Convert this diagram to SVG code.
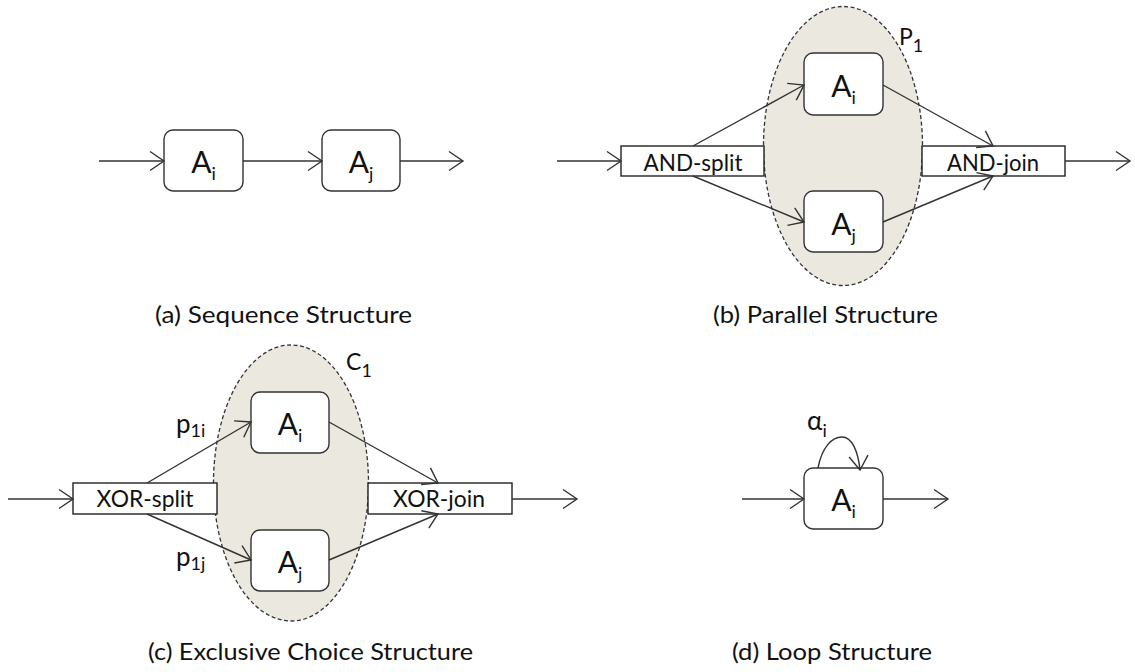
<svg xmlns="http://www.w3.org/2000/svg" width="1135" height="672" viewBox="0 0 1135 672">
<style>
text{font-family:Lato,"Open Sans","Liberation Sans",sans-serif;fill:#111}
.box{fill:#fff;stroke:#333;stroke-width:1.4}
.gate{fill:#fff;stroke:#222;stroke-width:1.4}
.grp{fill:#ebe8e0;stroke:#333;stroke-width:1.3;stroke-dasharray:4 2.5}
.c{fill:none;stroke:#333;stroke-width:1.4;marker-end:url(#arr)}
.a{font-size:30px;text-anchor:middle}
.sub{font-size:18px}
.g{font-size:24px;text-anchor:middle}
.cap{font-size:24px}
.lbl{font-size:26px}
</style>
<defs>
<marker id="arr" viewBox="-16 -11 19 22" refX="0" refY="0" markerWidth="19" markerHeight="22" markerUnits="userSpaceOnUse" orient="auto">
<path d="M-14,-9.5 L0,0 L-14,9.5" fill="none" stroke="#333" stroke-width="1.4"/>
</marker>
</defs>

<!-- groups (ellipses) -->
<g id="P1">
<ellipse class="grp" cx="843" cy="146" rx="79.5" ry="139.5"/>
<text x="899" y="45" style="font-size:23px">P<tspan style="font-size:18px" dy="7">1</tspan></text>
</g>
<g id="C1">
<ellipse class="grp" cx="291" cy="483" rx="77.5" ry="138"/>
<text x="346" y="370" style="font-size:23px">C<tspan style="font-size:18px" dy="7">1</tspan></text>
</g>

<!-- (a) sequence -->
<g id="seq-Ai"><rect class="box" x="164" y="130" width="79" height="61" rx="9"/><text class="a" x="203.5" y="173">A<tspan class="sub" dy="7">i</tspan></text></g>
<g id="seq-Aj"><rect class="box" x="322" y="130" width="78" height="61" rx="9"/><text class="a" x="361" y="173">A<tspan class="sub" dy="7">j</tspan></text></g>

<!-- (b) parallel -->
<g id="and-split"><rect class="gate" x="621" y="146" width="143" height="30"/><text class="g" x="693" y="171" textLength="99" lengthAdjust="spacingAndGlyphs">AND-split</text></g>
<g id="par-Ai"><rect class="box" x="804" y="53" width="79" height="62" rx="9"/><text class="a" x="843.5" y="96.5">A<tspan class="sub" dy="7">i</tspan></text></g>
<g id="par-Aj"><rect class="box" x="804" y="191" width="79" height="61" rx="9"/><text class="a" x="843.5" y="234.5">A<tspan class="sub" dy="7">j</tspan></text></g>
<g id="and-join"><rect class="gate" x="922" y="146" width="143" height="30"/><text class="g" x="993" y="171" textLength="92" lengthAdjust="spacingAndGlyphs">AND-join</text></g>

<!-- (c) exclusive choice -->
<g id="xor-split"><rect class="gate" x="73" y="483" width="144" height="31"/><text class="g" x="145" y="507" textLength="97" lengthAdjust="spacingAndGlyphs">XOR-split</text></g>
<g id="xor-Ai"><rect class="box" x="251" y="392" width="78" height="61" rx="9"/><text class="a" x="290" y="435">A<tspan class="sub" dy="7">i</tspan></text></g>
<g id="xor-Aj"><rect class="box" x="251" y="530" width="78" height="61" rx="9"/><text class="a" x="290" y="573">A<tspan class="sub" dy="7">j</tspan></text></g>
<g id="xor-join"><rect class="gate" x="368" y="483" width="144" height="31"/><text class="g" x="439" y="507" textLength="92" lengthAdjust="spacingAndGlyphs">XOR-join</text></g>

<!-- (d) loop -->
<g id="loop-Ai"><rect class="box" x="804" y="468" width="79" height="61" rx="9"/><text class="a" x="843.5" y="511">A<tspan class="sub" dy="7">i</tspan></text></g>

<!-- connectors -->
<g id="connectors">
<line class="c" x1="99" y1="161" x2="164" y2="161"/>
<line class="c" x1="243" y1="161" x2="322" y2="161"/>
<line class="c" x1="400" y1="161" x2="463" y2="161"/>

<line class="c" x1="557" y1="161" x2="621" y2="161"/>
<line class="c" x1="693" y1="146" x2="804" y2="85"/>
<line class="c" x1="693" y1="176" x2="804" y2="222"/>
<line class="c" x1="883" y1="85" x2="993" y2="146"/>
<line class="c" x1="883" y1="222" x2="993" y2="176"/>
<line class="c" x1="1065" y1="161" x2="1130" y2="161"/>

<line class="c" x1="8" y1="499" x2="73" y2="499"/>
<line class="c" x1="147" y1="483" x2="251" y2="422"/>
<line class="c" x1="147" y1="514" x2="251" y2="560"/>
<line class="c" x1="329" y1="422" x2="438" y2="483"/>
<line class="c" x1="329" y1="560" x2="438" y2="514"/>
<line class="c" x1="512" y1="499" x2="577" y2="499"/>

<line class="c" x1="742" y1="499" x2="804" y2="499"/>
<line class="c" x1="883" y1="499" x2="948" y2="499"/>
<path class="c" d="M818,468 C822,447 832,437 842,437 C852,437 858,451 860,470"/>
</g>

<!-- edge labels -->
<text class="lbl" x="176" y="433">p<tspan class="sub" dy="4">1i</tspan></text>
<text class="lbl" x="176" y="566">p<tspan class="sub" dy="4">1j</tspan></text>
<text class="lbl" x="807" y="430">α<tspan class="sub" dy="7">i</tspan></text>

<!-- captions -->
<text class="cap" x="155" y="323" textLength="257" lengthAdjust="spacingAndGlyphs">(a) Sequence Structure</text>
<text class="cap" x="713" y="323" textLength="225" lengthAdjust="spacingAndGlyphs">(b) Parallel Structure</text>
<text class="cap" x="148" y="660" textLength="325" lengthAdjust="spacingAndGlyphs">(c) Exclusive Choice Structure</text>
<text class="cap" x="732" y="660" textLength="200" lengthAdjust="spacingAndGlyphs">(d) Loop Structure</text>
</svg>
